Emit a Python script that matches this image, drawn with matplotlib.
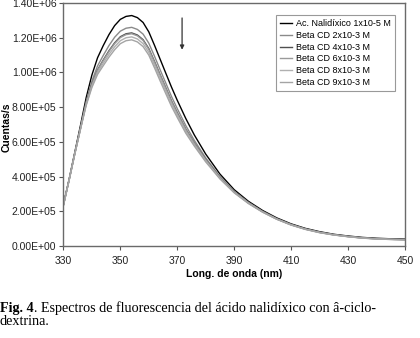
import numpy as np
import matplotlib
matplotlib.use("Agg")
import matplotlib.pyplot as plt
from matplotlib.ticker import FuncFormatter

# longitudes de onda (nm)
onda = [330, 332, 334, 336, 338, 340, 342, 344, 346, 348, 350, 352, 354, 356, 358,
        360, 362, 364, 366, 368, 370, 373, 376, 380, 385, 390, 395, 400, 405, 410,
        415, 420, 425, 430, 435, 440, 445, 450]

# intensidades en unidades de 1E+06 cuentas/s
nalidixico = [.240, .385, .540, .695, .855, .985, 1.085, 1.155, 1.218, 1.270, 1.306, 1.323, 1.328, 1.316, 1.288,
              1.234, 1.157, 1.076, .995, .915, .840, .735, .640, .530, .415, .325, .258, .205, .162, .128,
              .102, .083, .068, .058, .050, .045, .042, .040]
cd2 = [.237, .382, .535, .683, .832, .950, 1.038, 1.098, 1.155, 1.203, 1.238, 1.255, 1.260, 1.248, 1.221,
       1.169, 1.094, 1.015, .938, .861, .792, .694, .609, .508, .401, .316, .252, .200, .158, .125,
       .099, .080, .066, .056, .048, .043, .040, .038]
cd4 = [.236, .381, .533, .678, .822, .933, 1.015, 1.072, 1.125, 1.171, 1.206, 1.223, 1.228, 1.216, 1.189,
       1.138, 1.064, .987, .911, .836, .769, .674, .594, .498, .395, .312, .249, .198, .156, .123,
       .098, .079, .065, .055, .047, .042, .039, .037]
cd6 = [.236, .381, .533, .677, .821, .930, 1.012, 1.068, 1.120, 1.166, 1.201, 1.218, 1.223, 1.211, 1.184,
       1.133, 1.059, .983, .907, .832, .765, .671, .592, .496, .394, .311, .249, .198, .156, .123,
       .098, .079, .065, .055, .047, .042, .039, .037]
cd8 = [.235, .380, .531, .675, .815, .921, 1.000, 1.053, 1.104, 1.148, 1.183, 1.200, 1.205, 1.193, 1.166,
       1.116, 1.043, .967, .892, .818, .753, .660, .583, .491, .390, .309, .247, .196, .155, .122,
       .097, .078, .064, .054, .046, .041, .038, .036]
cd9 = [.234, .379, .530, .673, .810, .913, .989, 1.039, 1.088, 1.131, 1.166, 1.183, 1.188, 1.176, 1.149,
       1.100, 1.027, .951, .877, .804, .741, .650, .576, .485, .387, .307, .245, .195, .154, .121,
       .096, .077, .064, .054, .046, .041, .038, .036]

etiquetas = ["Ac. Nalidíxico 1x10-5 M", "Beta CD 2x10-3 M", "Beta CD 4x10-3 M",
             "Beta CD 6x10-3 M", "Beta CD 8x10-3 M", "Beta CD 9x10-3 M"]
colores = ["#000000", "#8a8a8a", "#505050", "#9a9a9a", "#b0b0b0", "#a4a4a4"]
series = [nalidixico, cd2, cd4, cd6, cd8, cd9]

plt.rcParams['font.family'] = ['Liberation Sans', 'DejaVu Sans']

fig = plt.figure(figsize=(4.2, 3.38), dpi=100)
ax = fig.add_axes([0.151, 0.272, 0.813, 0.719])

for serie, etiqueta, color in zip(series, etiquetas, colores):
    ax.plot(onda, np.array(serie) * 1e6, color=color, lw=1.0, label=etiqueta)

ax.set_xlim(330, 450)
ax.set_ylim(0, 1.4e6)
ax.set_xticks(range(330, 451, 20))
ax.set_yticks(np.arange(0, 1.41e6, 2e5))
ax.yaxis.set_major_formatter(FuncFormatter(lambda v, p: f"{v:.2E}"))
ax.tick_params(labelsize=7.5, length=3, width=0.8, color="#555555", labelcolor="#222222")
ax.tick_params(axis="x", pad=4)
ax.tick_params(axis="y", pad=2)

for lado in ax.spines:
    ax.spines[lado].set_color("#6a6a6a")
    ax.spines[lado].set_linewidth(1.0)

ax.set_xlabel("Long. de onda (nm)", fontsize=7.5, fontweight="bold")
ax.set_ylabel("Cuentas/s", fontsize=7.5, fontweight="bold")
ax.xaxis.set_label_coords(0.5, -0.095)
ax.yaxis.set_label_coords(-0.152, 0.49)

# flecha
ax.annotate("", xy=(371.7, 1.115e6), xytext=(371.7, 1.33e6),
            arrowprops=dict(arrowstyle="-|>", color="#333333", lw=0.9, mutation_scale=6))

leg = ax.legend(loc="upper right", bbox_to_anchor=(0.971, 0.95), fontsize=6.5,
                frameon=True, fancybox=False, edgecolor="#808080",
                handlelength=1.4, handletextpad=0.4, labelspacing=0.3,
                borderpad=0.45, borderaxespad=0.0)
leg.get_frame().set_linewidth(0.8)

# pie de figura
t1 = fig.text(0.0, 1 - 312 / 338, "Fig. 4", fontsize=10.2, fontweight="bold",
              family="Liberation Serif", va="baseline")
ax.annotate(". Espectros de fluorescencia del ácido nalidíxico con â-ciclo-",
            xy=(1, 0), xycoords=t1, va="bottom", ha="left", fontsize=10.2,
            family="Liberation Serif", annotation_clip=False)
fig.text(0.0, 1 - 325 / 338, "dextrina.", fontsize=10.2, family="Liberation Serif",
         va="baseline")

fig.savefig("out.png", dpi=100)
